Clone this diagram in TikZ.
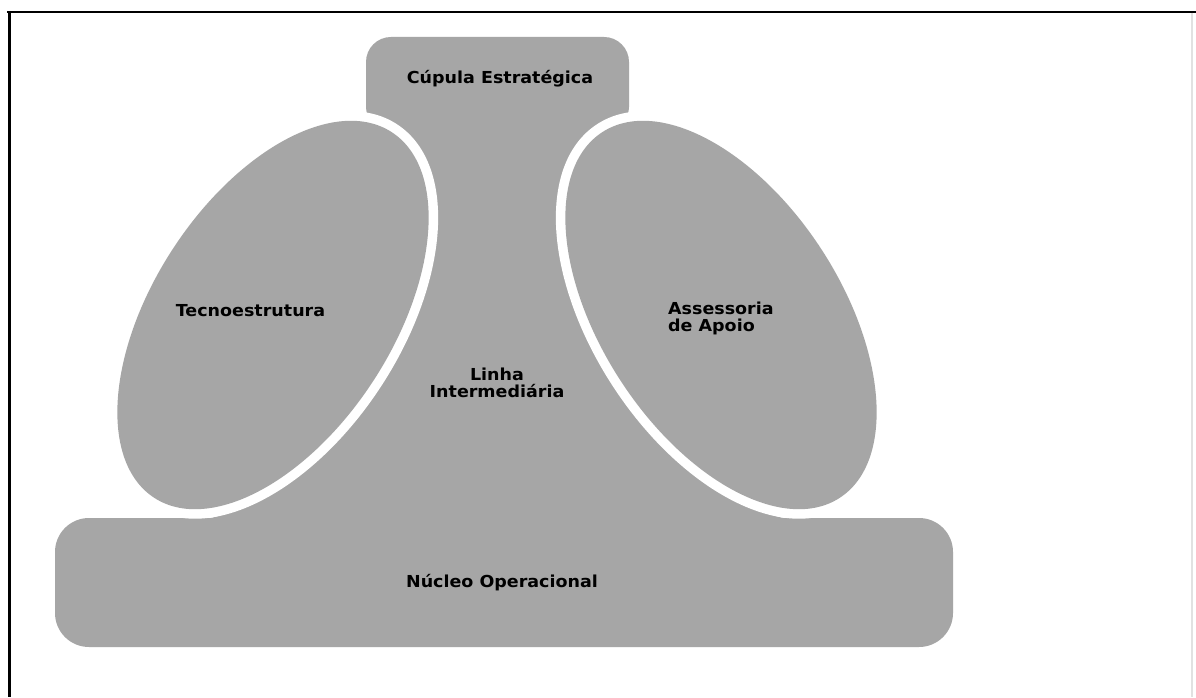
\documentclass[tikz,border=0pt]{standalone}
\usepackage{fontspec}
\setmainfont{DejaVu Sans}[FakeStretch=1.06]
\definecolor{shape}{RGB}{166,166,166}
\definecolor{faint}{RGB}{225,225,225}
\begin{document}
\begin{tikzpicture}[x=1pt,y=1pt,
  region/.style={fill=shape},
  gap/.style={draw=white,line width=19pt},
  label/.style={font=\fontsize{16.5}{17}\selectfont\bfseries, text=black, inner sep=0pt, align=center}]
\useasboundingbox (0,0) rectangle (1196,697);
\fill[white] (0,0) rectangle (1196,697);
% frame
\draw[black,line width=2pt] (7,685) -- (1196,685);
\draw[black,line width=3pt] (9,686) -- (9,0);
\draw[faint,line width=1.5pt] (1192,684) -- (1192,0);
% bottom block
\fill[region,rounded corners=34pt] (55,50) rectangle (953,179);
% top block and stem
\fill[region,rounded corners=25pt] (366,660) -- (629,660) [rounded corners=20pt] -- (629,570) -- (366,570) [rounded corners=25pt] -- cycle;
\fill[region] (382,592) -- (262,230) .. controls (250,195) and (235,180) .. (195,177)
  -- (799,177) .. controls (759,180) and (744,195) .. (732,230) -- (612,592) -- cycle;
% ellipses with white gaps
\draw[gap] (273,382) ellipse [x radius=218, y radius=120, rotate=57];
\fill[region] (273,382) ellipse [x radius=218, y radius=120, rotate=57];
\draw[gap] (721,382) ellipse [x radius=218, y radius=120, rotate=-57];
\fill[region] (721,382) ellipse [x radius=218, y radius=120, rotate=-57];
% labels
\node[label] (cupula) at (500,618) {Cúpula Estratégica};
\node[label] (tecno) at (250.5,386) {Tecnoestrutura};
\node[label] (linha) at (497,314) {Linha\\Intermediária};
\node[label, anchor=west, align=left] (assessoria) at (668,378.5) {Assessoria\\de Apoio};
\node[label] (nucleo) at (502,114) {Núcleo Operacional};
\end{tikzpicture}
\end{document}
